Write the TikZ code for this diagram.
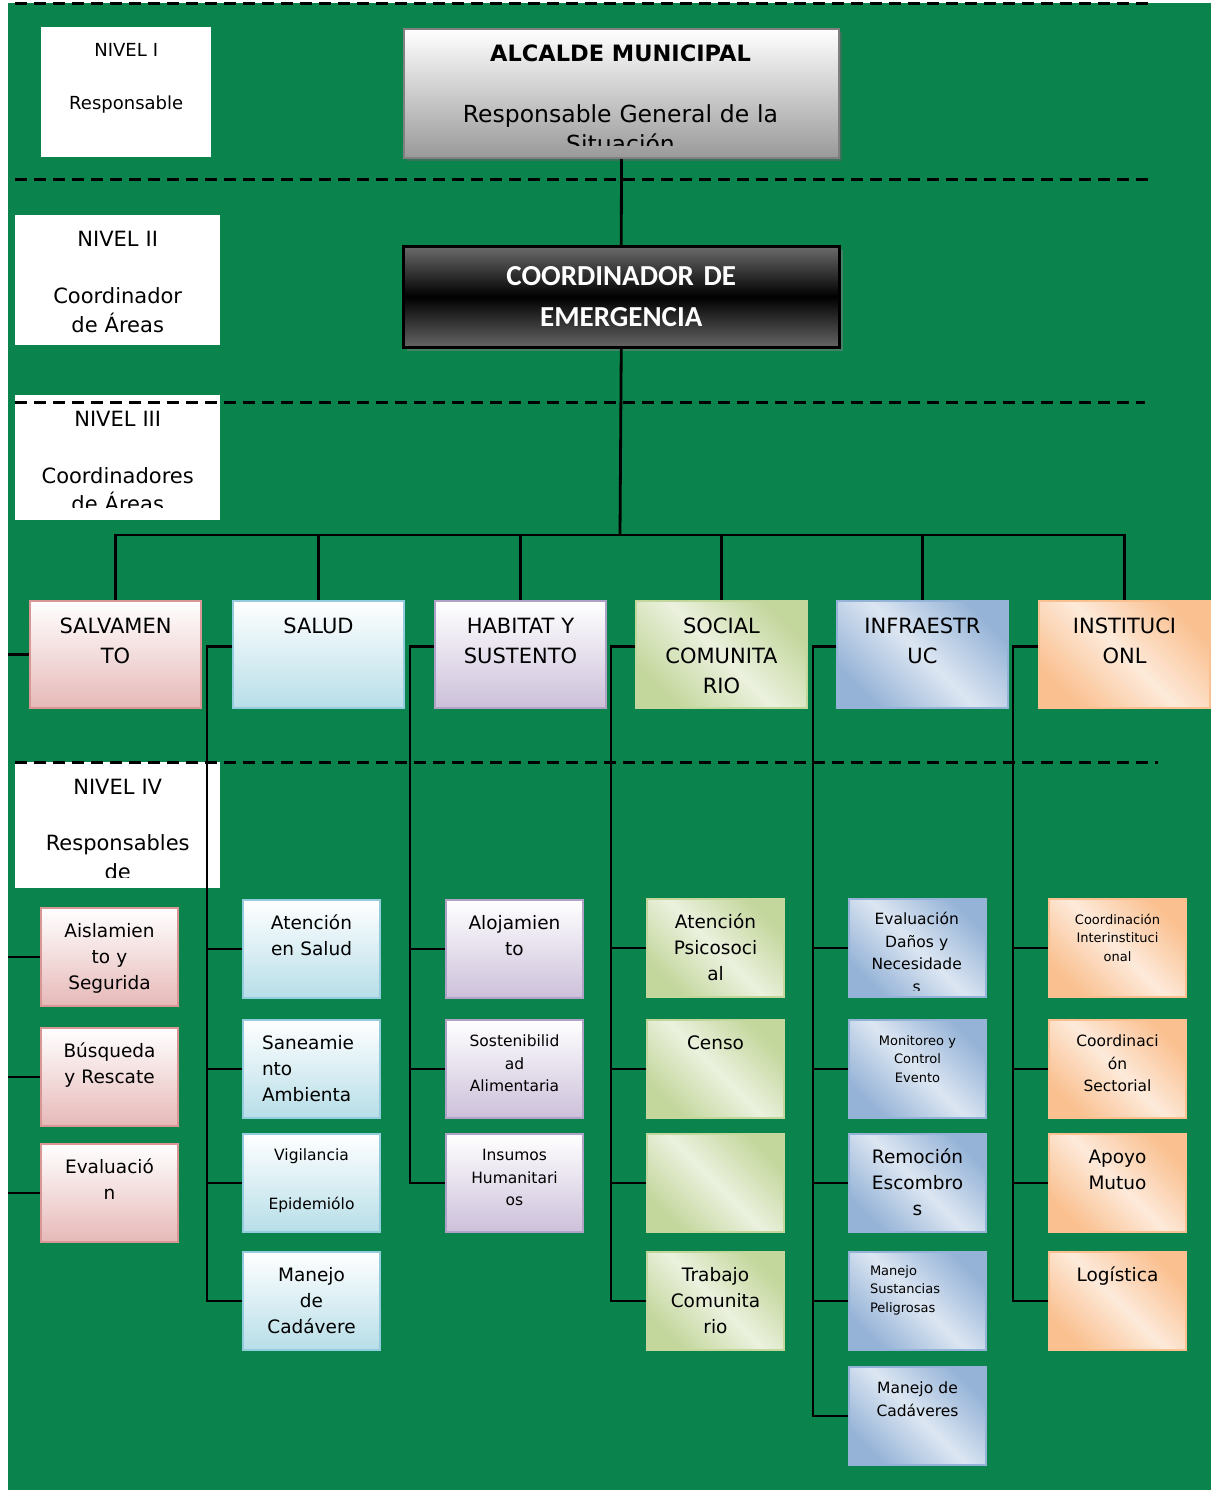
\documentclass[tikz,border=0pt]{standalone}
\usepackage{fontspec}
\setmainfont{DejaVu Sans}
\newfontfamily\calibrifont{Carlito}
\usetikzlibrary{shadows}
\definecolor{fondo}{RGB}{10,132,76}
\definecolor{rojo}{RGB}{230,185,184}
\definecolor{rojoborde}{RGB}{217,150,148}
\definecolor{celeste}{RGB}{183,222,232}
\definecolor{celesteborde}{RGB}{147,205,221}
\definecolor{lila}{RGB}{204,192,218}
\definecolor{lilaborde}{RGB}{178,161,199}
\definecolor{verdeclaro}{RGB}{235,241,222}
\definecolor{verde}{RGB}{195,214,155}
\definecolor{azulclaro}{RGB}{220,230,242}
\definecolor{azul}{RGB}{149,179,215}
\definecolor{naranjaclaro}{RGB}{253,234,218}
\definecolor{naranja}{RGB}{250,192,144}

\tikzset{
  conector/.style={line width=2.8pt, black},
  nivelline/.style={line width=3pt, black, dash pattern=on 12pt off 7pt},
  nivelbox/.style={fill=white, inner ysep=0pt, inner xsep=3pt, align=center, anchor=north west},
  rojobox/.style={top color=white, bottom color=rojo, draw=rojoborde, line width=2pt},
  celestebox/.style={top color=white, bottom color=celeste, draw=celesteborde, line width=2pt},
  lilabox/.style={top color=white, bottom color=lila, draw=lilaborde, line width=2pt},
  verdebox/.style={top color=verde, bottom color=verde, middle color=verdeclaro, shading angle=-45, draw=verde, line width=2pt},
  azulbox/.style={top color=azul, bottom color=azul, middle color=azulclaro, shading angle=-45, draw=azul, line width=2pt},
  naranjabox/.style={top color=naranja, bottom color=naranja, middle color=naranjaclaro, shading angle=-45, draw=naranja, line width=2pt},
  areabox/.style={anchor=north west, inner ysep=0pt, inner xsep=3pt, text width=165pt, align=center,
    text height=32pt, text depth=75pt, font=\fontsize{21}{30}\selectfont},
  tareabox/.style={anchor=north west, inner ysep=0pt, inner xsep=3pt, text width=131pt, align=center,
    text height=29pt, text depth=69pt, font=\fontsize{18.5}{26}\selectfont},
  tareachica/.style={tareabox, text height=26.5pt, text depth=71.5pt, font=\fontsize{15.5}{22.5}\selectfont},
  tareamini/.style={tareabox, text height=25pt, text depth=73pt, font=\fontsize{13}{18.5}\selectfont},
}

\begin{document}
\begin{tikzpicture}[x=1pt,y=-1pt]
\useasboundingbox (0,0) rectangle (1211,1490);
\fill[white] (0,0) rectangle (1211,1490);
\fill[fondo] (8,3) rectangle (1211,1490);

% niveles
\node[nivelbox, text width=164pt, text height=29.5pt, text depth=100.5pt, font=\fontsize{18}{26.5}\selectfont] (nivel1) at (41,27) {NIVEL I\\[26.5pt]Responsable};
\node[nivelbox, text width=199pt, text height=31.5pt, text depth=98.5pt, font=\fontsize{21}{29}\selectfont] (nivel2) at (15,215) {NIVEL II\\[28pt]Coordinador\\de Áreas};
\node[nivelbox, minimum width=205pt, minimum height=125pt] (nivel3) at (15,395) {};
\begin{scope}
  \clip (15,395) rectangle (220,507);
  \node[nivelbox, fill=none, text width=199pt, text height=31.5pt, text depth=80pt, font=\fontsize{21}{28}\selectfont] (nivel3txt) at (15,395) {NIVEL III\\[29pt]Coordinadores\\de Áreas};
\end{scope}
\node[nivelbox, minimum width=205pt, minimum height=126pt] (nivel4) at (15,762) {};
\begin{scope}
  \clip (15,762) rectangle (220,877);
  \node[nivelbox, fill=none, text width=199pt, text height=32pt, text depth=80pt, font=\fontsize{21}{29}\selectfont] (nivel4txt) at (15,762) {NIVEL IV\\[27pt]Responsables\\de};
\end{scope}

% nivel I y II
\node[anchor=north west, minimum width=435pt, minimum height=129pt, top color=white, bottom color=black!40, draw=black!50, line width=2pt,
  drop shadow={shadow xshift=3pt, shadow yshift=-3pt, fill=black!60}] (alcalde) at (403,28) {};
\begin{scope}
  \clip (403,28) rectangle (838,146);
  \node[anchor=base, text width=430pt, align=center, inner sep=0pt, font=\fontsize{23.5}{30}\selectfont] (alcaldetxt) at (620.5,62)
    {{\bfseries\fontsize{22.5}{30}\selectfont ALCALDE MUNICIPAL}\\[30.5pt]Responsable General de la\\Situación};
\end{scope}
\node[anchor=north west, minimum width=436pt, minimum height=101pt, text width=430pt, align=center, inner xsep=3pt,
  top color=black!58, bottom color=black!60, middle color=black, draw=black, line width=2.5pt,
  drop shadow={shadow xshift=4pt, shadow yshift=-4pt, fill=black!50},
  text=white, font=\calibrifont\bfseries\fontsize{29}{41}\selectfont] (coord) at (402,245) {COORDINADOR DE\\EMERGENCIA};

% nivel III
\node[areabox, rojobox] (salv) at (29,600) {SALVAMEN\\TO};
\node[areabox, celestebox] (salud) at (232,600) {SALUD};
\node[areabox, lilabox] (habitat) at (434,600) {HABITAT Y\\SUSTENTO};
\node[areabox, verdebox] (social) at (635,600) {SOCIAL\\COMUNITA\\RIO};
\node[areabox, azulbox] (infra) at (836,600) {INFRAESTR\\UC};
\node[areabox, naranjabox] (inst) at (1038,600) {INSTITUCI\\ONL};

% nivel IV
\node[tareabox, rojobox] (aisl) at (40,907) {Aislamien\\to y\\Segurida};
\node[tareabox, rojobox] (busq) at (40,1027) {Búsqueda\\y Rescate};
\node[tareabox, rojobox] (eval) at (40,1143) {Evaluació\\n};

\node[tareabox, celestebox] (aten) at (242,899) {Atención\\en Salud};
\node[tareabox, celestebox, align=left] (sane) at (242,1019) {\hspace*{16pt}Saneamie\\\hspace*{16pt}nto\\\hspace*{16pt}Ambienta};
\node[tareachica, celestebox] (vigi) at (242,1133) {Vigilancia\\[26.5pt]Epidemiólo};
\node[tareabox, celestebox] (mcad) at (242,1251) {Manejo\\de\\Cadávere};

\node[tareabox, lilabox] (aloj) at (445,899) {Alojamien\\to};
\node[tareachica, lilabox] (sost) at (445,1019) {Sostenibilid\\ad\\Alimentaria};
\node[tareachica, lilabox] (insu) at (445,1133) {Insumos\\Humanitari\\os};

\node[tareabox, verdebox] (psic) at (646,898) {Atención\\Psicosoci\\al};
\node[tareabox, verdebox] (cens) at (646,1019) {Censo};
\node[tareabox, verdebox] (vaci) at (646,1133) {};
\node[tareabox, verdebox] (trab) at (646,1251) {Trabajo\\Comunita\\rio};

\node[tareachica, azulbox] (edan) at (848,898) {};
\begin{scope}
  \clip (848,898) rectangle (985,990);
  \node[tareachica] (edantxt) at (848,898) {Evaluación\\Daños y\\Necesidade\\s};
\end{scope}
\node[tareamini, azulbox] (moni) at (848,1019) {Monitoreo y\\Control\\Evento};
\node[tareabox, azulbox] (remo) at (848,1133) {Remoción\\Escombro\\s};
\node[tareamini, azulbox, align=left, text height=23pt, text depth=75pt] (msus) at (848,1251) {\hspace*{18pt}Manejo\\\hspace*{18pt}Sustancias\\\hspace*{18pt}Peligrosas};
\node[tareachica, azulbox] (mcad2) at (848,1366) {Manejo de\\Cadáveres};

\node[tareamini, naranjabox] (cint) at (1048,898) {Coordinación\\Interinstituci\\onal};
\node[tareachica, naranjabox] (csec) at (1048,1019) {Coordinaci\\ón\\Sectorial};
\node[tareabox, naranjabox] (apoy) at (1048,1133) {Apoyo\\Mutuo};
\node[tareabox, naranjabox] (logi) at (1048,1251) {Logística};

% conectores
\draw[conector] (alcalde.south) -- (coord.north);
\coordinate (bus) at (620,535);
\draw[conector] (coord.south) -- (bus);
\foreach \a in {salv,salud,habitat,social,infra,inst}
  \draw[conector] (bus) -| (\a.north);
\coordinate (borde) at (8,0);
\draw[conector] (salv.west) -- (salv.west -| borde);
\foreach \c in {aisl,busq,eval}
  \draw[conector] (\c.west) -- (\c.west -| borde);
\foreach \p/\c in {salud/aten, salud/sane, salud/vigi, salud/mcad,
    habitat/aloj, habitat/sost, habitat/insu,
    social/psic, social/cens, social/vaci, social/trab,
    infra/edan, infra/moni, infra/remo, infra/msus, infra/mcad2,
    inst/cint, inst/csec, inst/apoy, inst/logi}
  \draw[conector] ([yshift=8pt]\p.west) -| ([xshift=-35pt]\c.west) -- (\c.west);

% lineas de nivel
\draw[nivelline] (15,4) -- (1150,4);
\draw[nivelline] (15,180) -- (1150,180);
\draw[nivelline] (15,402) -- (1145,402);
\draw[nivelline] (15,762) -- (1158,762);
\end{tikzpicture}
\end{document}
